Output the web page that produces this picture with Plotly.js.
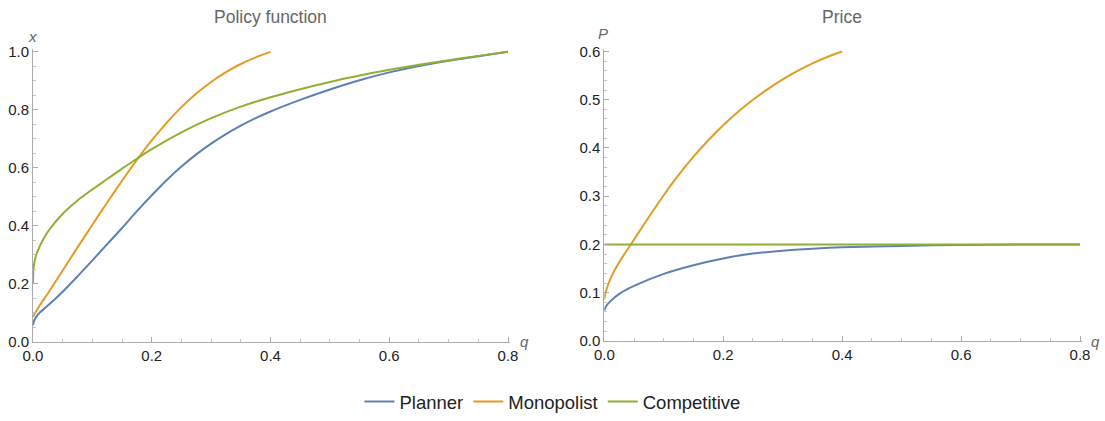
<!DOCTYPE html>
<html>
<head>
<meta charset="utf-8">
<script src="https://cdn.plot.ly/plotly-3.0.1.min.js"></script>
<style>html,body{margin:0;padding:0;background:#fff;}#chart{width:1105px;height:421px;}</style>
</head>
<body>
<div id="chart"></div>
<script>
// ---- Data ----
const seriesNames = ["Planner", "Monopolist", "Competitive"];
const seriesColors = ["#5E81B5", "#E19C24", "#8FB032"];

// Policy function x(q)
const policyPlannerQ = [0, 0.002, 0.006, 0.012, 0.025, 0.05, 0.075, 0.1, 0.125, 0.15, 0.175, 0.2, 0.225, 0.25, 0.275, 0.3, 0.325, 0.35, 0.375, 0.4, 0.45, 0.5, 0.55, 0.6, 0.65, 0.7, 0.75, 0.8];
const policyPlannerX = [0.057, 0.072, 0.087, 0.101, 0.124, 0.172, 0.225, 0.28, 0.336, 0.392, 0.45, 0.505, 0.557, 0.604, 0.646, 0.683, 0.716, 0.745, 0.771, 0.794, 0.834, 0.87, 0.902, 0.929, 0.951, 0.969, 0.985, 1.0];

const policyMonopolistQ = [0, 0.004, 0.012, 0.025, 0.05, 0.075, 0.1, 0.125, 0.15, 0.175, 0.2, 0.225, 0.25, 0.275, 0.3, 0.325, 0.35, 0.375, 0.4];
const policyMonopolistX = [0.085, 0.1, 0.127, 0.166, 0.245, 0.325, 0.403, 0.48, 0.555, 0.627, 0.694, 0.755, 0.809, 0.856, 0.896, 0.93, 0.958, 0.981, 1.0];

const policyCompetitiveQ = [0, 0.001, 0.003, 0.006, 0.012, 0.018, 0.025, 0.05, 0.075, 0.1, 0.125, 0.15, 0.175, 0.2, 0.25, 0.3, 0.35, 0.4, 0.45, 0.5, 0.55, 0.6, 0.65, 0.7, 0.75, 0.8];
const policyCompetitiveX = [0.2, 0.255, 0.28, 0.302, 0.332, 0.356, 0.379, 0.441, 0.487, 0.525, 0.561, 0.597, 0.631, 0.664, 0.722, 0.771, 0.811, 0.843, 0.871, 0.896, 0.918, 0.938, 0.955, 0.971, 0.986, 1.0];

// Price P(q)
const pricePlannerQ = [0, 0.003, 0.01, 0.027, 0.05, 0.1, 0.15, 0.2, 0.25, 0.3, 0.35, 0.4, 0.5, 0.6, 0.7, 0.8];
const pricePlannerP = [0.063, 0.072, 0.082, 0.099, 0.114, 0.139, 0.157, 0.171, 0.181, 0.187, 0.191, 0.194, 0.197, 0.199, 0.2, 0.2];

const priceMonopolistQ = [0, 0.003, 0.01, 0.025, 0.05, 0.075, 0.1, 0.125, 0.15, 0.175, 0.2, 0.225, 0.25, 0.275, 0.3, 0.325, 0.35, 0.375, 0.4];
const priceMonopolistP = [0.087, 0.104, 0.128, 0.163, 0.21, 0.257, 0.302, 0.344, 0.382, 0.416, 0.447, 0.475, 0.5, 0.522, 0.542, 0.5595, 0.5752, 0.5885, 0.6];

const priceCompetitiveQ = [0, 0.8];
const priceCompetitiveP = [0.2, 0.2];

// ---- Traces ----
const policyQ = [policyPlannerQ, policyMonopolistQ, policyCompetitiveQ];
const policyX = [policyPlannerX, policyMonopolistX, policyCompetitiveX];
const priceQ = [pricePlannerQ, priceMonopolistQ, priceCompetitiveQ];
const priceP = [pricePlannerP, priceMonopolistP, priceCompetitiveP];

const traces = [];
for (let i = 0; i < 3; i++) {
  traces.push({
    x: policyQ[i], y: policyX[i], xaxis: 'x', yaxis: 'y', type: 'scatter', mode: 'lines',
    name: seriesNames[i], legendgroup: seriesNames[i], showlegend: true, cliponaxis: false,
    line: {color: seriesColors[i], width: 2, shape: 'spline', smoothing: 0.8}
  });
}
for (let i = 0; i < 3; i++) {
  traces.push({
    x: priceQ[i], y: priceP[i], xaxis: 'x2', yaxis: 'y2', type: 'scatter', mode: 'lines',
    name: seriesNames[i], legendgroup: seriesNames[i], showlegend: false, cliponaxis: false,
    line: {color: seriesColors[i], width: 2, shape: 'spline', smoothing: 0.8}
  });
}

const FONT = 'Liberation Sans, Arial, sans-serif';
function minor(dt) {
  return {ticks: 'inside', ticklen: 3, tickwidth: 1, tickcolor: '#c4c4c4', dtick: dt, tick0: 0, showgrid: false};
}
function axis(extra) {
  return Object.assign({
    showgrid: false, zeroline: false, showline: true, linecolor: '#ababab', linewidth: 1,
    ticks: 'inside', ticklen: 5, tickwidth: 1, tickcolor: '#ababab', tickformat: '.1f',
    tickfont: {family: FONT, size: 15, color: '#222'}, fixedrange: true, automargin: false
  }, extra);
}

const W = 1105, H = 421;
const layout = {
  width: W, height: H,
  margin: {l: 0, r: 0, t: 0, b: 0},
  paper_bgcolor: '#fff', plot_bgcolor: '#fff',
  font: {family: FONT},
  showlegend: true,
  legend: {orientation: 'h', x: 0.5, xanchor: 'center', y: 1 - 409 / H, yanchor: 'middle',
           font: {family: FONT, size: 18.5, color: '#222'}, itemwidth: 30, bgcolor: 'rgba(0,0,0,0)'},
  xaxis: axis({domain: [33 / W, 509.8 / W], range: [0, 0.803], dtick: 0.2, tick0: 0, minor: minor(0.05), anchor: 'y'}),
  yaxis: axis({domain: [1 - 347.3 / H, 1 - 49.75 / H], range: [0, 1.01], dtick: 0.2, tick0: 0, minor: minor(0.05), anchor: 'x'}),
  xaxis2: axis({domain: [604.3 / W, 1081.8 / W], range: [0, 0.803], dtick: 0.2, tick0: 0, minor: minor(0.05), anchor: 'y2'}),
  yaxis2: axis({domain: [1 - 346.7 / H, 1 - 49.36 / H], range: [0, 0.606], dtick: 0.1, tick0: 0, minor: minor(0.02), anchor: 'x2'}),
  annotations: [
    {text: 'Policy function', xref: 'paper', yref: 'paper', x: 270 / W, y: 1 - 17 / H, xanchor: 'center', yanchor: 'middle',
     showarrow: false, font: {family: FONT, size: 17.5, color: '#666'}},
    {text: 'Price', xref: 'paper', yref: 'paper', x: 842 / W, y: 1 - 17 / H, xanchor: 'center', yanchor: 'middle',
     showarrow: false, font: {family: FONT, size: 17.5, color: '#666'}},
    {text: '<i>x</i>', xref: 'paper', yref: 'paper', x: 32 / W, y: 1 - 37 / H, xanchor: 'center', yanchor: 'middle',
     showarrow: false, font: {family: FONT, size: 15, color: '#666'}},
    {text: '<i>P</i>', xref: 'paper', yref: 'paper', x: 603 / W, y: 1 - 34 / H, xanchor: 'center', yanchor: 'middle',
     showarrow: false, font: {family: FONT, size: 15, color: '#666'}},
    {text: '<i>q</i>', xref: 'paper', yref: 'paper', x: 524 / W, y: 1 - 347 / H, xanchor: 'center', yanchor: 'middle',
     showarrow: false, font: {family: FONT, size: 15, color: '#666'}},
    {text: '<i>q</i>', xref: 'paper', yref: 'paper', x: 1095 / W, y: 1 - 347 / H, xanchor: 'center', yanchor: 'middle',
     showarrow: false, font: {family: FONT, size: 15, color: '#666'}}
  ]
};

Plotly.newPlot('chart', traces, layout, {displayModeBar: false, staticPlot: true});
</script>
</body>
</html>
